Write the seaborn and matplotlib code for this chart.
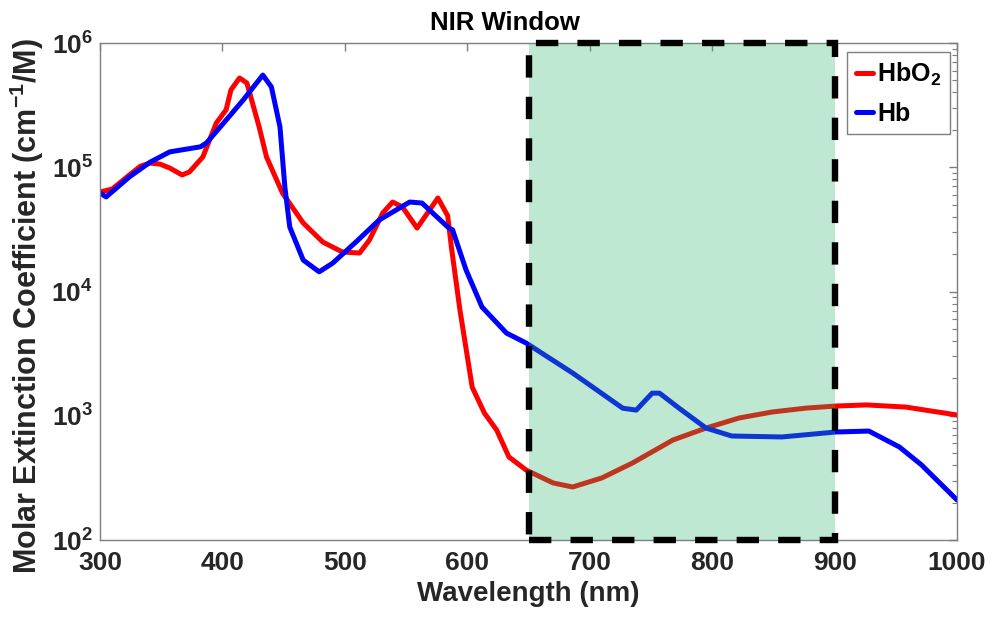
import numpy as np
import pandas as pd
import matplotlib
matplotlib.use("Agg")
import matplotlib.pyplot as plt
import seaborn as sns
from matplotlib.patches import Rectangle
from matplotlib.lines import Line2D

# ---- data ----
hbo2_nm = [300, 310, 324, 333, 341, 349, 357, 367, 373, 384, 395, 403, 407, 414, 420,
           430, 436, 449, 466, 482, 498, 512, 520, 531, 539, 547, 559, 576, 584, 587,
           594, 604, 614, 624, 634, 648, 670, 686, 710, 735, 768, 795, 822, 849, 877, 901,
           926, 958, 1000]
hbo2_eps = [63200, 66800, 86700, 102000, 108000, 106000, 98600, 86700, 91600, 121000,
            227000, 290000, 420000, 523000, 476000, 211000, 121000, 62100, 35600, 25000,
            20800, 20400, 25900, 42900, 52500, 47900, 32400, 56600, 40700, 22800, 7100,
            1700, 1050, 767, 466, 366, 288, 267, 316, 417, 638, 796, 959, 1072, 1153, 1197,
            1222, 1175, 1014]

hb_nm = [300, 305, 324, 341, 357, 382, 387, 401, 417, 433, 440, 447, 451, 455, 466,
         479, 490, 509, 528, 553, 563, 585, 588, 599, 612, 632, 648, 686, 727, 738,
         751, 757, 773, 795, 816, 857, 901, 928, 953, 971, 1000]
hb_eps = [62100, 57700, 83600, 110000, 133000, 146000, 157000, 227000, 348000, 552000,
          443000, 211000, 69300, 33000, 17900, 14400, 16900, 25000, 37600, 52500, 51500,
          32400, 31300, 14900, 7500, 4630, 3850, 2210, 1150, 1110, 1520, 1520, 1150, 796,
          687, 675, 740, 753, 560, 402, 210]

series_labels = ["HbO$_2$", "Hb"]
series_colors = ["#ff0000", "#0000ff"]
window = [650, 900]
x_ticks = [300, 400, 500, 600, 700, 800, 900, 1000]

# ---- style ----
sns.set_style("white")
plt.rcParams["font.family"] = ["Liberation Sans", "DejaVu Sans"]
plt.rcParams["font.weight"] = "bold"
plt.rcParams["mathtext.default"] = "regular"
txt = "#262626"

fig = plt.figure(figsize=(9.91, 6.28), dpi=100)
ax = fig.add_axes([100/991, 1-540/628, 857/991, (540-43)/628])

df = pd.concat([
    pd.DataFrame({"nm": hbo2_nm, "eps": hbo2_eps, "s": series_labels[0]}),
    pd.DataFrame({"nm": hb_nm, "eps": hb_eps, "s": series_labels[1]}),
])
sns.lineplot(data=df, x="nm", y="eps", hue="s", palette=series_colors,
             linewidth=3.6, sort=False, legend=False, ax=ax, zorder=2)
for ln in ax.get_lines():
    ln.set_solid_joinstyle("round")
    ln.set_solid_capstyle("round")

ax.set_yscale("log")
ax.set_xlim(300, 1000)
ax.set_ylim(1e2, 1e6)
ax.set_xticks(x_ticks)

# NIR window
ax.axvspan(window[0], window[1], color=(45/255, 182/255, 108/255), alpha=0.3,
           lw=0, zorder=3)
rect = Rectangle((window[0], 1e2), window[1]-window[0], 1e6-1e2, fill=False,
                 edgecolor="black", linewidth=4.6, linestyle=(0, (3.5, 3.0)),
                 zorder=4, clip_on=False)
ax.add_patch(rect)

# spines and ticks
for sp in ax.spines.values():
    sp.set_color("#7f7f7f")
    sp.set_linewidth(1.0)
ax.tick_params(which="both", direction="in", top=True, right=True, colors="#7f7f7f",
               labelcolor=txt, labelsize=19)
ax.tick_params(which="major", length=6, width=1)
ax.tick_params(which="minor", length=3.5, width=0.8)
ax.tick_params(axis="y", which="major", pad=5)
ax.tick_params(axis="x", which="major", pad=8)
for lab in ax.get_xticklabels() + ax.get_yticklabels():
    lab.set_fontweight("bold")

ax.set_xlabel("Wavelength (nm)", fontsize=20, fontweight="bold", color=txt, labelpad=4)
ax.set_ylabel("Molar Extinction Coefficient (cm$^{-1}$/M)", fontsize=22,
              fontweight="bold", color=txt)
ax.yaxis.set_label_coords(-0.063, 0.47)
ax.set_title("NIR Window", fontsize=18.5, fontweight="bold", color="black",
             x=0.473, pad=9)
ax.grid(False)

handles = [Line2D([], [], color=c, lw=3.6) for c in series_colors]
leg = ax.legend(handles, series_labels, loc="upper right",
                bbox_to_anchor=(0.9915, 0.982), fontsize=18, frameon=True,
                fancybox=False, edgecolor="#7f7f7f", framealpha=1,
                handlelength=0.7, handletextpad=0.15, labelspacing=0.55,
                borderpad=0.35, borderaxespad=0)
leg.get_frame().set_linewidth(1.0)
for t in leg.get_texts():
    t.set_fontweight("bold")
    t.set_color("black")

fig.savefig("out.png", dpi=100)
